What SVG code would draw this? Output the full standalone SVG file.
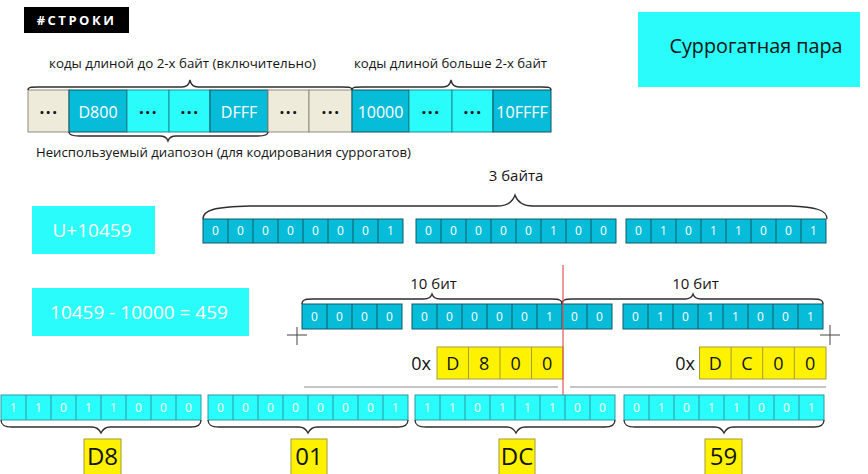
<svg xmlns="http://www.w3.org/2000/svg" width="868" height="474" viewBox="0 0 868 474">
<style>
text{font-family:"Open Sans","Noto Sans","Liberation Sans",sans-serif;}
.lbl{font-size:13px;fill:#141414;}
.big{font-size:15px;text-anchor:middle;}
.dark{fill:#06BCD8;stroke:#13505C;stroke-width:1;}
.light{fill:#2AFBFB;stroke:#1F8E96;stroke-width:1;}
.beige{fill:#EEEBDB;stroke:#8E8C80;stroke-width:1;}
.bitsD{fill:#06BCD8;stroke:#0E5A66;stroke-width:1;}
.bitsL{fill:#2AFBFB;stroke:#2A9AA2;stroke-width:1;}
.div{stroke:#0E5A66;stroke-width:1;fill:none;}
.divL{stroke:#2A9AA2;stroke-width:1;fill:none;}
.divY{stroke:#A39C3A;stroke-width:1;fill:none;}
.bit{font-size:12px;fill:#FFFFFF;text-anchor:middle;}
.hex{font-size:16px;fill:#FFFFFF;text-anchor:middle;}
.dots{font-size:17px;font-weight:bold;fill:#141414;text-anchor:middle;letter-spacing:1.5px;}
.yel{fill:#FFF200;stroke:#A39C3A;stroke-width:1;}
.ytx{font-size:18px;fill:#141414;text-anchor:middle;}
.btx{font-size:24px;fill:#141414;text-anchor:middle;}
.brace{fill:none;stroke:#2E2E2E;stroke-width:1.3;}
.cyanbox{fill:#2AFBFB;}
.white{fill:#FFFFFF;text-anchor:middle;font-size:19px;}
</style>

<g id="tag">
<rect x="24" y="7" width="105" height="26" fill="#000"/>
<text x="76.5" y="24.5" font-size="13" font-weight="bold" fill="#FFF" text-anchor="middle" letter-spacing="2.5">#СТРОКИ</text>
</g>

<g id="title">
<rect class="cyanbox" x="638" y="12" width="222" height="75"/>
<text x="756" y="53" font-size="20" fill="#141414" text-anchor="middle" textLength="173" lengthAdjust="spacingAndGlyphs">Суррогатная пара</text>
</g>

<g id="codes-row">
<rect class="beige" x="28" y="90" width="41" height="42"/>
<rect class="dark" x="69" y="90" width="58" height="42"/>
<rect class="light" x="127" y="90" width="42" height="42"/>
<rect class="light" x="169" y="90" width="41" height="42"/>
<rect class="dark" x="210" y="90" width="58" height="42"/>
<rect class="beige" x="268" y="90" width="41" height="42"/>
<rect class="beige" x="309" y="90" width="43" height="42"/>
<rect class="dark" x="352" y="90" width="57" height="42"/>
<rect class="light" x="409" y="90" width="43" height="42"/>
<rect class="light" x="452" y="90" width="41" height="42"/>
<rect class="dark" x="493" y="90" width="58" height="42"/>
<text class="dots" x="49" y="114">...</text>
<text class="hex" x="98" y="118">D800</text>
<text class="dots" x="148.5" y="114">...</text>
<text class="dots" x="190" y="114">...</text>
<text class="hex" x="239" y="118">DFFF</text>
<text class="dots" x="289" y="114">...</text>
<text class="dots" x="331" y="114">...</text>
<text class="hex" x="380.5" y="118">10000</text>
<text class="dots" x="431" y="114">...</text>
<text class="dots" x="473" y="114">...</text>
<text class="hex" x="522" y="118">10FFFF</text>
</g>

<g id="labels">
<text class="lbl" x="49" y="68" textLength="267" lengthAdjust="spacingAndGlyphs">коды длиной до 2-х байт (включительно)</text>
<text class="lbl" x="354" y="68" textLength="193" lengthAdjust="spacingAndGlyphs">коды длиной больше 2-х байт</text>
<text class="lbl" x="36" y="157" textLength="375" lengthAdjust="spacingAndGlyphs">Неиспользуемый диапозон (для кодирования суррогатов)</text>
<text class="lbl big" x="516" y="181">3 байта</text>
<text class="lbl big" x="433.5" y="289">10 бит</text>
<text class="lbl big" x="695.5" y="289">10 бит</text>
</g>

<g id="codepoint">
<rect class="cyanbox" x="32" y="206" width="123" height="48"/>
<text class="white" x="92" y="237">U+10459</text>
</g>

<g id="subtract">
<rect class="cyanbox" x="32" y="288" width="217" height="48"/>
<text class="white" x="139" y="319">10459 - 10000 = 459</text>
</g>

<g id="three-bytes">
<rect class="bitsD" x="203" y="219" width="200" height="24"/>
<path class="div" d="M228,219v24M253,219v24M278,219v24M303,219v24M328,219v24M353,219v24M378,219v24"/>
<text class="bit" x="215.5 240.5 265.5 290.5 315.5 340.5 365.5 390.5" y="235">00000001</text>
<rect class="bitsD" x="416" y="219" width="200" height="24"/>
<path class="div" d="M441,219v24M466,219v24M491,219v24M516,219v24M541,219v24M566,219v24M591,219v24"/>
<text class="bit" x="428.5 453.5 478.5 503.5 528.5 553.5 578.5 603.5" y="235">00000100</text>
<rect class="bitsD" x="626" y="219" width="200" height="24"/>
<path class="div" d="M651,219v24M676,219v24M701,219v24M726,219v24M751,219v24M776,219v24M801,219v24"/>
<text class="bit" x="638.5 663.5 688.5 713.5 738.5 763.5 788.5 813.5" y="235">01011001</text>
</g>

<g id="twenty-bits">
<rect class="bitsD" x="302" y="304" width="100" height="25"/>
<path class="div" d="M327,304v25M352,304v25M377,304v25"/>
<text class="bit" x="314.5 339.5 364.5 389.5" y="321">0000</text>
<rect class="bitsD" x="412" y="304" width="200" height="25"/>
<path class="div" d="M437,304v25M462,304v25M487,304v25M512,304v25M537,304v25M562,304v25M587,304v25"/>
<text class="bit" x="424.5 449.5 474.5 499.5 524.5 549.5 574.5 599.5" y="321">00000100</text>
<rect class="bitsD" x="623" y="304" width="200" height="25"/>
<path class="div" d="M648,304v25M673,304v25M698,304v25M723,304v25M748,304v25M773,304v25M798,304v25"/>
<text class="bit" x="635.5 660.5 685.5 710.5 735.5 760.5 785.5 810.5" y="321">01011001</text>
</g>

<g id="high-surrogate">
<text class="ytx" x="421" y="370">0x</text>
<rect class="yel" x="437" y="347" width="126" height="32"/>
<path class="divY" d="M468.5,347v32M500,347v32M531.5,347v32"/>
<text class="ytx" x="452.75 484.25 515.75 547.25" y="370">D800</text>
</g>

<g id="low-surrogate">
<text class="ytx" x="685" y="370">0x</text>
<rect class="yel" x="699.5" y="347" width="126.5" height="32"/>
<path class="divY" d="M731.1,347v32M762.7,347v32M794.3,347v32"/>
<text class="ytx" x="715.3 746.9 778.5 810.1" y="370">DC00</text>
</g>

<g id="result-bits">
<rect class="bitsL" x="1" y="395" width="200" height="25"/>
<path class="divL" d="M26,395v25M51,395v25M76,395v25M101,395v25M126,395v25M151,395v25M176,395v25"/>
<text class="bit" x="13.5 38.5 63.5 88.5 113.5 138.5 163.5 188.5" y="412">11011000</text>
<rect class="bitsL" x="208" y="395" width="200" height="25"/>
<path class="divL" d="M233,395v25M258,395v25M283,395v25M308,395v25M333,395v25M358,395v25M383,395v25"/>
<text class="bit" x="220.5 245.5 270.5 295.5 320.5 345.5 370.5 395.5" y="412">00000001</text>
<rect class="bitsL" x="415" y="395" width="200" height="25"/>
<path class="divL" d="M440,395v25M465,395v25M490,395v25M515,395v25M540,395v25M565,395v25M590,395v25"/>
<text class="bit" x="427.5 452.5 477.5 502.5 527.5 552.5 577.5 602.5" y="412">11011100</text>
<rect class="bitsL" x="624" y="395" width="200" height="25"/>
<path class="divL" d="M649,395v25M674,395v25M699,395v25M724,395v25M749,395v25M774,395v25M799,395v25"/>
<text class="bit" x="636.5 661.5 686.5 711.5 736.5 761.5 786.5 811.5" y="412">01011001</text>
</g>

<g id="byte-D8">
<rect class="yel" x="84" y="439" width="37" height="45"/>
<text class="btx" x="102.5" y="465">D8</text>
</g>
<g id="byte-01">
<rect class="yel" x="291" y="439" width="36" height="45"/>
<text class="btx" x="309" y="465">01</text>
</g>
<g id="byte-DC">
<rect class="yel" x="499" y="439" width="36" height="45"/>
<text class="btx" x="517" y="465">DC</text>
</g>
<g id="byte-59">
<rect class="yel" x="705" y="439" width="37" height="45"/>
<text class="btx" x="723.5" y="465">59</text>
</g>

<g id="connectors">
<path class="brace" d="M28,90C28,87 31,87 38,87L182,87C187,87 189,85 190,80C191,85 193,87 198,87L342,87C349,87 352,87 352,90"/>
<path class="brace" d="M352,90C352,87 355,87 362,87L443,87C448,87 450,85 451,80C452,85 454,87 459,87L541,87C548,87 551,87 551,90"/>
<path class="brace" d="M69,132C69,135 72,136 79,136L160,136C165,136 167,138 168,141C169,138 171,136 176,136L258,136C265,136 268,135 268,132"/>
<path class="brace" d="M203,219C203,210 214,207 250,206L497,206C509,206 513,201 515,195C517,201 521,206 533,206L790,206C816,207 827,210 827,219"/>
<path class="brace" d="M302,304C302,300 305,299 312,299L424,299C429,299 431,297 432,294C433,297 435,299 440,299L552,299C559,299 562,300 562,304"/>
<path class="brace" d="M562,304C562,300 565,299 572,299L685,299C690,299 692,297 693,294C694,297 696,299 701,299L813,299C820,299 823,300 823,304"/>
<path class="brace" d="M1,420C1,425 4,427 12,427L92,427C97,427 99,429 101,433C103,429 105,427 110,427L191,427C198,427 201,425 201,420"/>
<path class="brace" d="M208,420C208,425 211,427 219,427L299,427C304,427 306,429 308,433C310,429 312,427 317,427L398,427C405,427 408,425 408,420"/>
<path class="brace" d="M415,420C415,425 418,427 426,427L507,427C512,427 514,429 516,433C518,429 520,427 525,427L605,427C612,427 615,425 615,420"/>
<path class="brace" d="M624,420C624,425 627,427 635,427L715,427C720,427 722,429 724,433C726,429 728,427 733,427L814,427C821,427 824,425 824,420"/>
<path d="M304,387H558M570,387H826" stroke="#B4B4B4" stroke-width="1.5" fill="none"/>
<path d="M563,265V395" stroke="#E25555" stroke-width="1.2" fill="none"/>
<path d="M287,335H307M297,327V345M820,335H840M830,325V345" stroke="#444" stroke-width="1" fill="none"/>
</g>
</svg>
